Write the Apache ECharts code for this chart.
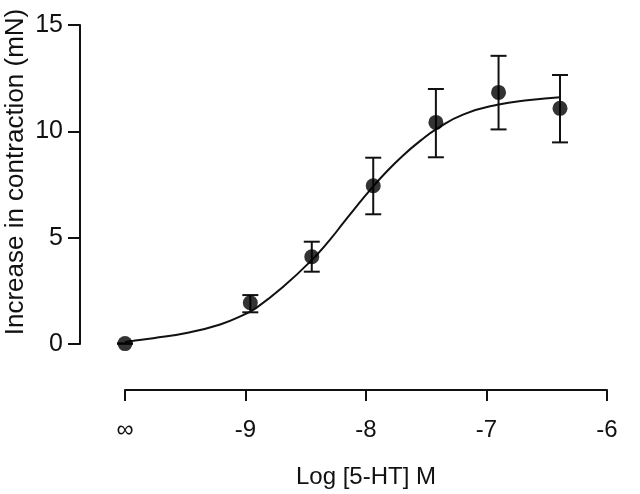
<!DOCTYPE html>
<html>
<head>
<meta charset="utf-8">
<script src="https://cdn.jsdelivr.net/npm/echarts@6/dist/echarts.min.js"></script>
<style>
  html, body { margin: 0; padding: 0; background: #fff; }
  #main { width: 640px; height: 494px; }
</style>
</head>
<body>
<div id="main"></div>
<script>
// mean responses (log concentration, mN) with error bar limits
var logConc = [-10, -8.96, -8.45, -7.94, -7.42, -6.9, -6.39];
var meanVals = [0.02, 1.94, 4.1, 7.44, 10.42, 11.83, 11.08];
var errLow = [0.02, 1.49, 3.4, 6.1, 8.78, 10.09, 9.48];
var errHigh = [0.02, 2.3, 4.81, 8.76, 11.99, 13.55, 12.65];

// fitted curve
var curveX = [-10, -9.93, -9.765, -9.49, -9.21, -9.02, -8.91, -8.685, -8.45, -8.3, -8.19, -8.1, -7.965, -7.83, -7.69, -7.55, -7.41, -7.19, -6.91, -6.64, -6.39];
var curveY = [0.1, 0.15, 0.27, 0.52, 0.92, 1.36, 1.7, 2.7, 3.95, 4.9, 5.68, 6.32, 7.25, 8.1, 8.88, 9.55, 10.13, 10.8, 11.25, 11.47, 11.6];

var xTicks = ['∞', '-9', '-8', '-7', '-6'];
var yTicks = [0, 5, 10, 15];

var chartDom = document.getElementById('main');
var myChart = echarts.init(chartDom, null, { renderer: 'canvas' });
var option;

var font = '"Liberation Sans", Arial, sans-serif';

option = {
    animation: false,
    backgroundColor: '#fff',
    grid: { left: 125, right: 33, top: 25, bottom: 150 },
    xAxis: {
        type: 'value',
        min: -10,
        max: -6,
        interval: 1,
        offset: 46,
        axisLine: { onZero: false, lineStyle: { color: '#111', width: 2 } },
        axisTick: { length: 11, lineStyle: { color: '#111', width: 2 } },
        axisLabel: {
            color: '#111', fontSize: 24, fontFamily: font, margin: 28,
            formatter: function (v) { return xTicks[Math.round(v + 10)]; }
        },
        splitLine: { show: false },
        name: 'Log [5-HT] M',
        nameLocation: 'middle',
        nameGap: 75,
        nameTextStyle: { color: '#111', fontSize: 24, fontFamily: font }
    },
    yAxis: {
        type: 'value',
        min: 0,
        max: 15,
        interval: 5,
        offset: 45,
        axisLine: { show: true, onZero: false, lineStyle: { color: '#111', width: 2 } },
        axisTick: { show: true, length: 12, lineStyle: { color: '#111', width: 2 } },
        axisLabel: {
            color: '#111', fontSize: 25, fontFamily: font, margin: 17,
            formatter: function (v) { return yTicks.indexOf(v) >= 0 ? String(v) : ''; }
        },
        splitLine: { show: false }
    },
    graphic: [{
        type: 'text',
        x: 16,
        y: 172,
        rotation: Math.PI / 2,
        style: {
            text: 'Increase in contraction (mN)',
            fill: '#111',
            font: '26px ' + font,
            textAlign: 'center',
            textVerticalAlign: 'middle'
        }
    }],
    series: [
        {
            name: 'fit',
            type: 'line',
            data: curveX.map(function (x, i) { return [x, curveY[i]]; }),
            smooth: 0.5,
            showSymbol: false,
            lineStyle: { color: '#111', width: 2 },
            z: 2
        },
        {
            name: 'sem',
            type: 'custom',
            data: logConc.map(function (x, i) { return [x, errLow[i], errHigh[i]]; }),
            renderItem: function (params, api) {
                var lo = api.coord([api.value(0), api.value(1)]);
                var hi = api.coord([api.value(0), api.value(2)]);
                var hw = 8;
                var st = { stroke: '#111', lineWidth: 2 };
                return {
                    type: 'group',
                    children: [
                        { type: 'line', shape: { x1: lo[0], y1: lo[1], x2: hi[0], y2: hi[1] }, style: st },
                        { type: 'line', shape: { x1: lo[0] - hw, y1: lo[1], x2: lo[0] + hw, y2: lo[1] }, style: st },
                        { type: 'line', shape: { x1: hi[0] - hw, y1: hi[1], x2: hi[0] + hw, y2: hi[1] }, style: st }
                    ]
                };
            },
            z: 3
        },
        {
            name: 'mean',
            type: 'scatter',
            data: logConc.map(function (x, i) { return [x, meanVals[i]]; }),
            symbol: 'circle',
            symbolSize: 15,
            itemStyle: { color: '#000' },
            z: 4
        }
    ]
};

option && myChart.setOption(option);
</script>
</body>
</html>
